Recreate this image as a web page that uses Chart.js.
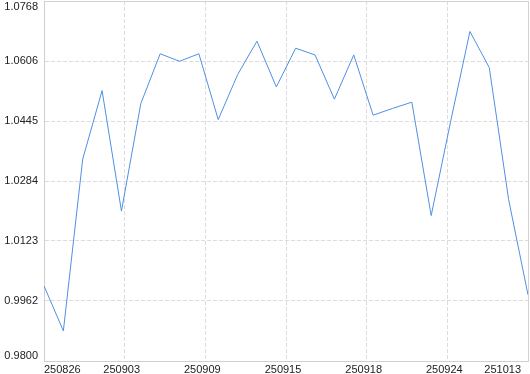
<!DOCTYPE html>
<html>
<head>
<meta charset="utf-8">
<script src="https://cdn.jsdelivr.net/npm/chart.js@4/dist/chart.umd.min.js"></script>
<style>
  html, body { margin: 0; padding: 0; background: #fff; }
  #wrap { width: 530px; height: 374px; }
</style>
</head>
<body>
<div id="wrap"><canvas id="chart"></canvas></div>
<script>
  // values, one per trading day
  const values = [
    1.0002, 0.9881, 1.0343, 1.0527, 1.0203, 1.0492, 1.0626, 1.0606, 1.0626,
    1.0449, 1.0570, 1.0660, 1.0537, 1.0641, 1.0623, 1.0504, 1.0623, 1.0461,
    1.0479, 1.0496, 1.0191, 1.0443, 1.0686, 1.0589, 1.0234, 0.9978
  ];
  const xLabels = ['250826', '250903', '250909', '250915', '250918', '250924', '251013'];
  const yTicks = [0.9800, 0.9962, 1.0123, 1.0284, 1.0445, 1.0606, 1.0768];

  const lastIndex = values.length - 1;
  const points = values.map((y, x) => ({ x, y }));

  // keep the outer tick labels inside the canvas, like the original
  const edgeLabels = {
    id: 'edgeLabels',
    beforeDraw(chart) {
      let yItems = chart.scales.y.getLabelItems();
      yItems[0].options.textBaseline = 'bottom';
      yItems[yItems.length - 1].options.textBaseline = 'top';

      let xItems = chart.scales.x.getLabelItems();
      if (!xItems._shifted) {
        xItems.forEach((it, i) => {
          if (i === xItems.length - 1) it.options.translation[0] -= 7;
          else if (i > 0) it.options.translation[0] -= 3;
        });
        xItems._shifted = true;
      }
    }
  };

  const font = { family: '"Liberation Sans", Arial, sans-serif', size: 11 };

  // outer frame lines are solid, inner grid lines dashed
  function gridDash(count) {
    return ctx => ctx.index === count - 1 ? [] : [4, 2];
  }
  function gridColor(count) {
    return ctx => ctx.index === count - 1 ? '#d2d2d2' : '#dcdcdc';
  }

  new Chart(document.getElementById('chart'), {
    type: 'line',
    data: {
      datasets: [{
        data: points,
        borderColor: '#4f8fe6',
        borderWidth: 1,
        pointRadius: 0,
        tension: 0,
        fill: false
      }]
    },
    options: {
      responsive: true,
      maintainAspectRatio: false,
      animation: false,
      layout: { padding: { top: 1, right: 2, left: 0, bottom: 0 } },
      plugins: {
        legend: { display: false },
        tooltip: { enabled: false }
      },
      scales: {
        x: {
          type: 'linear',
          min: 0,
          max: lastIndex,
          afterBuildTicks(scale) {
            scale.ticks = xLabels.map((l, i) => ({ value: i * lastIndex / (xLabels.length - 1) }));
          },
          afterFit(scale) {
            scale.height = 13;
            scale.paddingLeft = 0;
            scale.paddingRight = 0;
          },
          grid: { color: gridColor(xLabels.length), drawTicks: false },
          border: { display: true, color: '#cfcfcf', dash: gridDash(xLabels.length) },
          ticks: {
            align: 'inner',
            padding: 2,
            maxRotation: 0,
            autoSkip: false,
            color: '#222',
            font,
            callback: (v, i) => xLabels[i]
          }
        },
        y: {
          min: yTicks[0],
          max: yTicks[yTicks.length - 1],
          afterBuildTicks(scale) {
            scale.ticks = yTicks.map(v => ({ value: v }));
          },
          afterFit(scale) {
            scale.width = 44;
            scale.paddingTop = 0;
            scale.paddingBottom = 0;
          },
          grid: { color: gridColor(yTicks.length), drawTicks: false },
          border: { display: true, color: '#cfcfcf', dash: gridDash(yTicks.length) },
          ticks: {
            padding: 6,
            color: '#222',
            font,
            callback: v => v.toFixed(4)
          }
        }
      }
    },
    plugins: [edgeLabels]
  });
</script>
</body>
</html>
